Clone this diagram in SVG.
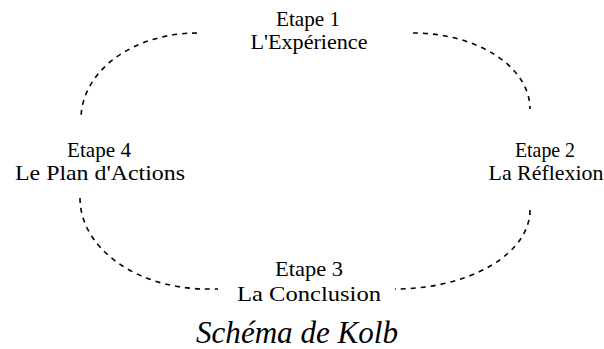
<svg xmlns="http://www.w3.org/2000/svg" width="604" height="349" viewBox="0 0 604 349">
<style>
.arc{fill:none;stroke:#000;stroke-width:1.6;stroke-dasharray:5 5}
.t{font-family:"Liberation Serif","Times New Roman",serif;font-size:21px;fill:#000;text-anchor:middle}
.cap{font-family:"Liberation Serif","Times New Roman",serif;font-size:31px;font-style:italic;fill:#000}
</style>
<rect width="604" height="349" fill="#fff"/>
<g id="connectors">
<path class="arc" d="M197,33 A116,86 0 0 0 81,119"/>
<path class="arc" d="M413,33 A117,76 0 0 1 530,109"/>
<path class="arc" d="M530,210 A135,79 0 0 1 395,289"/>
<path class="arc" d="M80,198 A127,91 0 0 0 207,289 L218,289"/>
</g>
<g id="etape1">
<text class="t" x="308" y="26" textLength="64" lengthAdjust="spacingAndGlyphs">Etape 1</text>
<text class="t" x="309" y="49" textLength="117" lengthAdjust="spacingAndGlyphs">L'Expérience</text>
</g>
<g id="etape2">
<text class="t" x="545" y="157" textLength="60" lengthAdjust="spacingAndGlyphs">Etape 2</text>
<text class="t" x="546" y="180" textLength="115" lengthAdjust="spacingAndGlyphs">La Réflexion</text>
</g>
<g id="etape3">
<text class="t" x="309" y="276" textLength="68" lengthAdjust="spacingAndGlyphs">Etape 3</text>
<text class="t" x="309" y="301" textLength="144" lengthAdjust="spacingAndGlyphs">La Conclusion</text>
</g>
<g id="etape4">
<text class="t" x="99" y="157" textLength="64" lengthAdjust="spacingAndGlyphs">Etape 4</text>
<text class="t" x="100" y="180" textLength="170" lengthAdjust="spacingAndGlyphs">Le Plan d'Actions</text>
</g>
<text class="cap" x="196" y="343" textLength="202" lengthAdjust="spacingAndGlyphs">Schéma de Kolb</text>
</svg>
